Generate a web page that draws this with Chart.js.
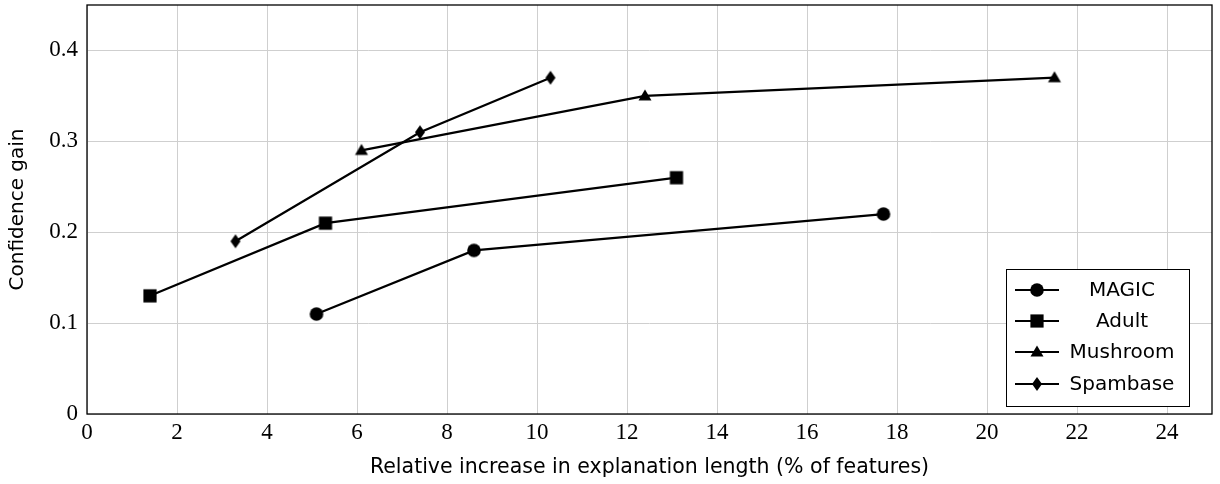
<!DOCTYPE html>
<html>
<head>
<meta charset="utf-8">
<script src="https://cdn.jsdelivr.net/npm/chart.js@4"></script>
<style>
html,body{margin:0;padding:0;background:#fff;}
#wrap{width:1220px;height:484px;}
</style>
</head>
<body>
<div id="wrap"><canvas id="c" width="1220" height="484"></canvas></div>
<script>
const seriesNames = ['MAGIC', 'Adult', 'Mushroom', 'Spambase'];
const magicX = [5.1, 8.6, 17.7];
const magicY = [0.11, 0.18, 0.22];
const adultX = [1.4, 5.3, 13.1];
const adultY = [0.13, 0.21, 0.26];
const mushroomX = [6.1, 12.4, 21.5];
const mushroomY = [0.29, 0.35, 0.37];
const spambaseX = [3.3, 7.4, 10.3];
const spambaseY = [0.19, 0.31, 0.37];
const xTicks = [0, 2, 4, 6, 8, 10, 12, 14, 16, 18, 20, 22, 24];
const yTicks = [0, 0.1, 0.2, 0.3, 0.4];
const xTitle = 'Relative increase in explanation length (% of features)';
const yTitle = 'Confidence gain';

function makeMarker(kind) {
  const s = 18;
  const cv = document.createElement('canvas');
  cv.width = s; cv.height = s;
  const g = cv.getContext('2d');
  g.fillStyle = '#000';
  const c = s / 2;
  g.beginPath();
  if (kind === 'circle') {
    g.arc(c, c, 6.8, 0, Math.PI * 2);
  } else if (kind === 'square') {
    g.rect(c - 6.6, c - 6.6, 13.2, 13.2);
  } else if (kind === 'triangle') {
    g.moveTo(c, c - 6.5);
    g.lineTo(c + 6.5, c + 4.5);
    g.lineTo(c - 6.5, c + 4.5);
    g.closePath();
  } else {
    g.moveTo(c, c - 7);
    g.lineTo(c + 5, c);
    g.lineTo(c, c + 7);
    g.lineTo(c - 5, c);
    g.closePath();
  }
  g.fill();
  return cv;
}
const markers = [makeMarker('circle'), makeMarker('square'), makeMarker('triangle'), makeMarker('diamond')];

function pts(xs, ys) { return xs.map((x, i) => ({x: x, y: ys[i]})); }
const allX = [magicX, adultX, mushroomX, spambaseX];
const allY = [magicY, adultY, mushroomY, spambaseY];

const datasets = seriesNames.map((n, i) => ({
  label: n,
  data: pts(allX[i], allY[i]),
  borderColor: '#000',
  backgroundColor: '#000',
  borderWidth: 2.2,
  pointStyle: markers[i],
  pointRadius: 7,
  pointHoverRadius: 7,
  showLine: true,
  fill: false,
  tension: 0
}));

const framePlugin = {
  id: 'frame',
  beforeDatasetsDraw(chart) {
    const {ctx, chartArea: a} = chart;
    ctx.save();
    ctx.strokeStyle = '#000';
    ctx.lineWidth = 1.3;
    ctx.strokeRect(a.left, a.top, a.right - a.left, a.bottom - a.top);
    ctx.restore();
  }
};

const legendPlugin = {
  id: 'customLegend',
  afterDatasetsDraw(chart) {
    const {ctx, chartArea: a} = chart;
    const right = a.right - 23, bottom = a.bottom - 8;
    const w = 183, h = 137;
    const left = right - w, top = bottom - h;
    ctx.save();
    ctx.fillStyle = '#fff';
    ctx.fillRect(left, top, w, h);
    ctx.strokeStyle = '#000';
    ctx.lineWidth = 1;
    ctx.strokeRect(left + 0.5, top + 0.5, w, h);
    const rows = [21, 52, 83, 115];
    ctx.font = '20px "DejaVu Sans"';
    ctx.textAlign = 'center';
    ctx.textBaseline = 'middle';
    seriesNames.forEach((n, i) => {
      const y = top + rows[i];
      ctx.strokeStyle = '#000';
      ctx.lineWidth = 2.2;
      ctx.beginPath();
      ctx.moveTo(left + 9, y);
      ctx.lineTo(left + 53, y);
      ctx.stroke();
      const m = markers[i];
      ctx.drawImage(m, left + 31 - m.width / 2, y - m.height / 2);
      ctx.fillStyle = '#000';
      ctx.fillText(n, left + 116, y + 1);
    });
    ctx.restore();
  }
};

new Chart(document.getElementById('c'), {
  type: 'scatter',
  data: {datasets: datasets},
  options: {
    responsive: false,
    animation: false,
    devicePixelRatio: 1,
    layout: {autoPadding: false, padding: {left: 0, right: 8, top: 5, bottom: 0}},
    plugins: {legend: {display: false}, tooltip: {enabled: false}},
    scales: {
      x: {
        type: 'linear',
        min: 0, max: 25,
        afterBuildTicks(s) { s.ticks = xTicks.map(v => ({value: v})); },
        afterFit(s) { s.height = 70; s.paddingLeft = 0; s.paddingRight = 0; },
        border: {display: false},
        grid: {color: '#cfcfcf', lineWidth: 1, drawTicks: false},
        ticks: {
          padding: 7,
          color: '#000',
          font: {family: '"Liberation Serif", "DejaVu Serif", serif', size: 23, lineHeight: 1},
          callback: v => String(v)
        },
        title: {
          display: true, text: xTitle, color: '#000',
          font: {family: '"DejaVu Sans"', size: 20.5, lineHeight: 1.2},
          padding: {top: 0, bottom: 4}
        }
      },
      y: {
        type: 'linear',
        min: 0, max: 0.45,
        afterBuildTicks(s) { s.ticks = yTicks.map(v => ({value: v})); },
        afterFit(s) { s.width = 87; s.paddingTop = 0; s.paddingBottom = 0; },
        border: {display: false},
        grid: {color: '#cfcfcf', lineWidth: 1, drawTicks: false},
        ticks: {
          padding: 9,
          color: '#000',
          font: {family: '"Liberation Serif", "DejaVu Serif", serif', size: 23, lineHeight: 1},
          callback: v => String(v)
        },
        title: {
          display: true, text: yTitle, color: '#000',
          font: {family: '"DejaVu Sans"', size: 20, lineHeight: 1.2},
          padding: {top: 6, bottom: 0}
        }
      }
    }
  },
  plugins: [framePlugin, legendPlugin]
});
</script>
</body>
</html>
